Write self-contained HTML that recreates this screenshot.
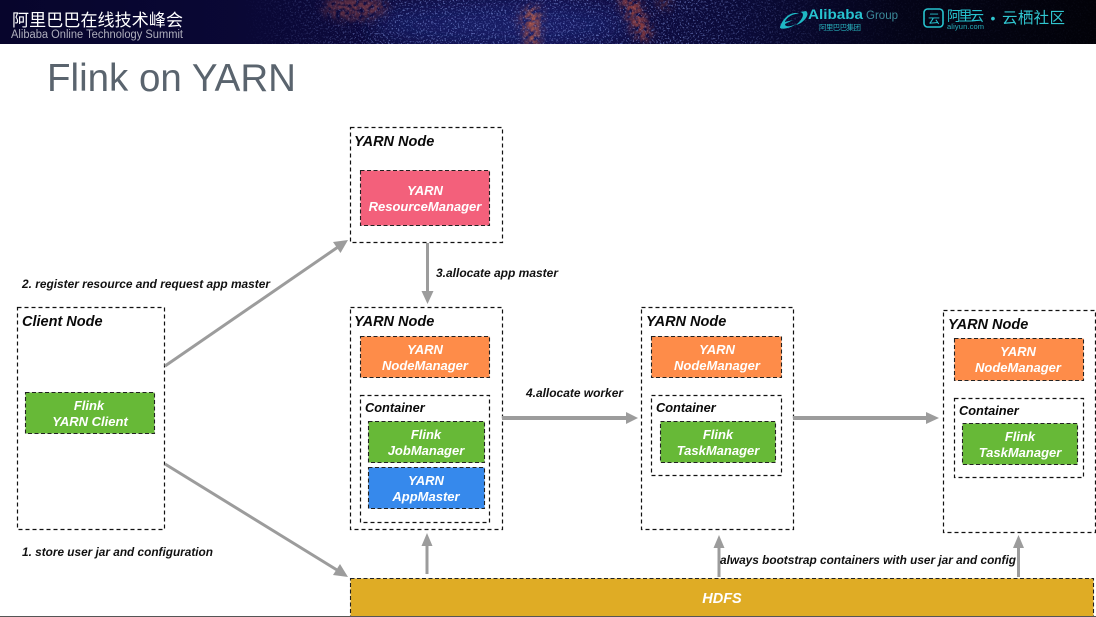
<!DOCTYPE html>
<html lang="zh">
<head>
<meta charset="utf-8">
<title>Flink on YARN</title>
<style>
html,body{margin:0;padding:0;background:#fff;width:1096px;height:617px;overflow:hidden}
svg{display:block}
text{font-family:"Liberation Sans","Noto Sans CJK SC",sans-serif}
.box{fill:#fff;stroke:#111;stroke-width:1.2;stroke-dasharray:4 3}
.fill{stroke:#222;stroke-width:1.1;stroke-dasharray:4 2.5}
.h{font-size:14.5px;font-weight:bold;font-style:italic;fill:#0a0a0a}
.c{font-size:12.8px;font-weight:bold;font-style:italic;fill:#0a0a0a}
.l{font-size:11.6px;font-weight:bold;font-style:italic;fill:#111}
.w{font-size:13px;font-weight:bold;font-style:italic;fill:#fff;text-anchor:middle}
.ln{stroke:#9c9c9c;stroke-width:3;fill:none}
.ln4{stroke:#9c9c9c;stroke-width:4;fill:none}
.ah{fill:#9c9c9c}
</style>
</head>
<body>
<svg width="1096" height="617" viewBox="0 0 1096 617" xmlns="http://www.w3.org/2000/svg">
<defs>
<linearGradient id="bg" x1="0" x2="1" y1="0" y2="0">
<stop offset="0" stop-color="#07052c"/>
<stop offset=".25" stop-color="#0a0836"/>
<stop offset=".5" stop-color="#110d48"/>
<stop offset=".68" stop-color="#0a0a38"/>
<stop offset=".82" stop-color="#040418"/>
<stop offset="1" stop-color="#020208"/>
</linearGradient>
<linearGradient id="fade" x1="0" x2="1" y1="0" y2="0">
<stop offset=".22" stop-color="#000"/>
<stop offset=".36" stop-color="#fff"/>
<stop offset=".62" stop-color="#fff"/>
<stop offset=".76" stop-color="#222"/>
<stop offset="1" stop-color="#111"/>
</linearGradient>
<mask id="starmask"><rect width="1096" height="44" fill="url(#fade)"/></mask>
<filter id="stars" x="0" y="0" width="100%" height="100%">
<feTurbulence type="fractalNoise" baseFrequency=".6" numOctaves="2" seed="7"/>
<feColorMatrix type="matrix" values="0 0 0 0 .3  0 0 0 0 .4  0 0 0 0 .9  7 0 0 0 -3.9"/>
<feGaussianBlur stdDeviation=".35"/>
</filter>
<filter id="speck" x="-60%" y="-60%" width="220%" height="220%">
<feGaussianBlur in="SourceGraphic" stdDeviation="5" result="b"/>
<feTurbulence type="fractalNoise" baseFrequency=".22" numOctaves="2" seed="4"/>
<feColorMatrix type="matrix" values="0 0 0 0 1  0 0 0 0 1  0 0 0 0 1  3 0 0 0 -.85" result="n"/>
<feComposite in="b" in2="n" operator="in"/>
</filter>
<filter id="b8" x="-50%" y="-50%" width="200%" height="200%"><feGaussianBlur stdDeviation="12"/></filter>
<clipPath id="top"><rect width="1096" height="44"/></clipPath>
</defs>
<rect width="1096" height="617" fill="#fff"/>

<g clip-path="url(#top)">
<rect width="1096" height="44" fill="url(#bg)"/>
<ellipse cx="500" cy="25" rx="130" ry="22" fill="#1d2a80" opacity=".55" filter="url(#b8)"/>
<rect width="1096" height="44" filter="url(#stars)" mask="url(#starmask)" opacity=".5"/>
<g filter="url(#speck)" opacity=".8">
<path d="M526 8 L540 8 L538 46 L526 46Z" fill="#d8683c"/>
<path d="M515 15 L532 22 L525 28 Z" fill="#a84a3c"/>
<path d="M618 -4 L636 -4 L652 36 L640 42 Z" fill="#b8503c"/>
<ellipse cx="355" cy="8" rx="32" ry="11" fill="#7a3a44"/>
<ellipse cx="664" cy="3" rx="5" ry="6" fill="#9a4838"/>
</g>
</g>
<text x="12" y="26" font-size="17" fill="#fff" textLength="171" lengthAdjust="spacing">阿里巴巴在线技术峰会</text>
<text x="11" y="38" font-size="11.5" fill="#aeaebc" textLength="172" lengthAdjust="spacingAndGlyphs">Alibaba Online Technology Summit</text>

<path d="M780 27 C784 15 794 11 799 14 C793 13 786 18 785 22 L793 20 L785 24 C785 27 790 27 796 24 C790 29 779 30 780 27Z M796 25 C802 20 806 13 800 12 L806 11 C811 15 802 24 796 25Z" fill="#1fb8c4"/>
<text x="808" y="19" font-size="13.5" font-weight="bold" fill="#27c3cf" textLength="55" lengthAdjust="spacingAndGlyphs">Alibaba</text>
<text x="866" y="19" font-size="12" fill="#3c8c9c" textLength="32" lengthAdjust="spacingAndGlyphs">Group</text>
<text x="819" y="30" font-size="7.5" fill="#27b0bc" textLength="42" lengthAdjust="spacing">阿里巴巴集团</text>

<rect x="924" y="9" width="19" height="18" rx="3.5" fill="none" stroke="#27c3cf" stroke-width="1.6"/>
<text x="928" y="23" font-size="12" fill="#27c3cf">云</text>
<text x="947" y="21" font-size="14" fill="#27c3cf" textLength="37" lengthAdjust="spacing">阿里云</text>
<text x="947" y="29" font-size="7.5" fill="#27b0bc" textLength="37" lengthAdjust="spacing">aliyun.com</text>
<text x="993" y="23" font-size="14" fill="#30c6d0" text-anchor="middle">•</text>
<text x="1002" y="23" font-size="15.5" fill="#30c6d0" textLength="63" lengthAdjust="spacing">云栖社区</text>

<text x="47" y="91" font-size="39" fill="#5a646e" textLength="249" lengthAdjust="spacingAndGlyphs">Flink on YARN</text>

<!-- nodes -->
<rect class="box" x="350.5" y="127.5" width="152" height="115"/>
<text class="h" x="354" y="146">YARN Node</text>
<rect class="fill" x="360.5" y="170.5" width="129" height="55" fill="#f3607b"/>
<text class="w" x="425" y="195">YARN</text>
<text class="w" x="425" y="211">ResourceManager</text>

<rect class="box" x="17.5" y="307.5" width="147" height="222"/>
<text class="h" x="22" y="326">Client Node</text>
<rect class="fill" x="25.5" y="392.5" width="129" height="41" fill="#67b937"/>
<text class="w" x="89" y="410">Flink</text>
<text class="w" x="90" y="426">YARN Client</text>

<rect class="box" x="350.5" y="307.5" width="152" height="222"/>
<text class="h" x="354" y="326">YARN Node</text>
<rect class="fill" x="360.5" y="336.5" width="129" height="41" fill="#fe8c49"/>
<text class="w" x="425" y="354">YARN</text>
<text class="w" x="425" y="370">NodeManager</text>
<rect class="box" x="360.5" y="395.5" width="129" height="127"/>
<text class="c" x="365" y="412">Container</text>
<rect class="fill" x="368.5" y="421.5" width="116" height="41" fill="#67b937"/>
<text class="w" x="426" y="439">Flink</text>
<text class="w" x="426" y="455">JobManager</text>
<rect class="fill" x="368.5" y="467.5" width="116" height="41" fill="#3689ec"/>
<text class="w" x="426" y="485">YARN</text>
<text class="w" x="426" y="501">AppMaster</text>

<rect class="box" x="641.5" y="307.5" width="152" height="222"/>
<text class="h" x="646" y="326">YARN Node</text>
<rect class="fill" x="651.5" y="336.5" width="130" height="41" fill="#fe8c49"/>
<text class="w" x="717" y="354">YARN</text>
<text class="w" x="717" y="370">NodeManager</text>
<rect class="box" x="651.5" y="395.5" width="130" height="80"/>
<text class="c" x="656" y="412">Container</text>
<rect class="fill" x="660.5" y="421.5" width="115" height="41" fill="#67b937"/>
<text class="w" x="718" y="439">Flink</text>
<text class="w" x="718" y="455">TaskManager</text>

<rect class="box" x="943.5" y="310.5" width="152" height="222"/>
<text class="h" x="948" y="329">YARN Node</text>
<rect class="fill" x="954.5" y="338.5" width="129" height="42" fill="#fe8c49"/>
<text class="w" x="1018" y="356">YARN</text>
<text class="w" x="1018" y="372">NodeManager</text>
<rect class="box" x="954.5" y="398.5" width="129" height="79"/>
<text class="c" x="959" y="415">Container</text>
<rect class="fill" x="962.5" y="423.5" width="115" height="41" fill="#67b937"/>
<text class="w" x="1020" y="441">Flink</text>
<text class="w" x="1020" y="457">TaskManager</text>

<rect class="fill" x="350.5" y="578.5" width="743" height="38" fill="#dfac25"/>
<text class="w" x="722" y="603" style="font-size:14.5px">HDFS</text>
<rect x="0" y="616" width="1096" height="1" fill="#555"/>

<!-- connectors -->
<line class="ln" x1="165" y1="366" x2="338" y2="247"/>
<polygon class="ah" points="348,240 340.5,253 333,242"/>
<line class="ln" x1="165" y1="464" x2="337" y2="570"/>
<polygon class="ah" points="348,577 333,575 340,564"/>
<line class="ln" x1="427.5" y1="243" x2="427.5" y2="294"/>
<polygon class="ah" points="427.5,304 421.5,291 433.5,291"/>
<line class="ln4" x1="502" y1="418" x2="628" y2="418"/>
<polygon class="ah" points="638,418 626,412 626,424"/>
<line class="ln4" x1="793" y1="418" x2="930" y2="418"/>
<polygon class="ah" points="939,418 926,412 926,424"/>
<line class="ln" x1="427" y1="574" x2="427" y2="542"/>
<polygon class="ah" points="427,533 421.5,546 432.5,546"/>
<line class="ln" x1="719" y1="577" x2="719" y2="544"/>
<polygon class="ah" points="719,535 713.5,548 724.5,548"/>
<line class="ln" x1="1018.5" y1="577" x2="1018.5" y2="544"/>
<polygon class="ah" points="1018.5,535 1013,548 1024,548"/>

<!-- labels -->
<text class="l" x="22" y="288" textLength="248" lengthAdjust="spacingAndGlyphs">2. register resource and request app master</text>
<text class="l" x="22" y="556" textLength="191" lengthAdjust="spacingAndGlyphs">1. store user jar and configuration</text>
<text class="l" x="436" y="277" textLength="122" lengthAdjust="spacingAndGlyphs">3.allocate app master</text>
<text class="l" x="526" y="397" textLength="97" lengthAdjust="spacingAndGlyphs">4.allocate worker</text>
<text class="l" x="720" y="564" textLength="296" lengthAdjust="spacingAndGlyphs">always bootstrap containers with user jar and config</text>
</svg>
</body>
</html>
